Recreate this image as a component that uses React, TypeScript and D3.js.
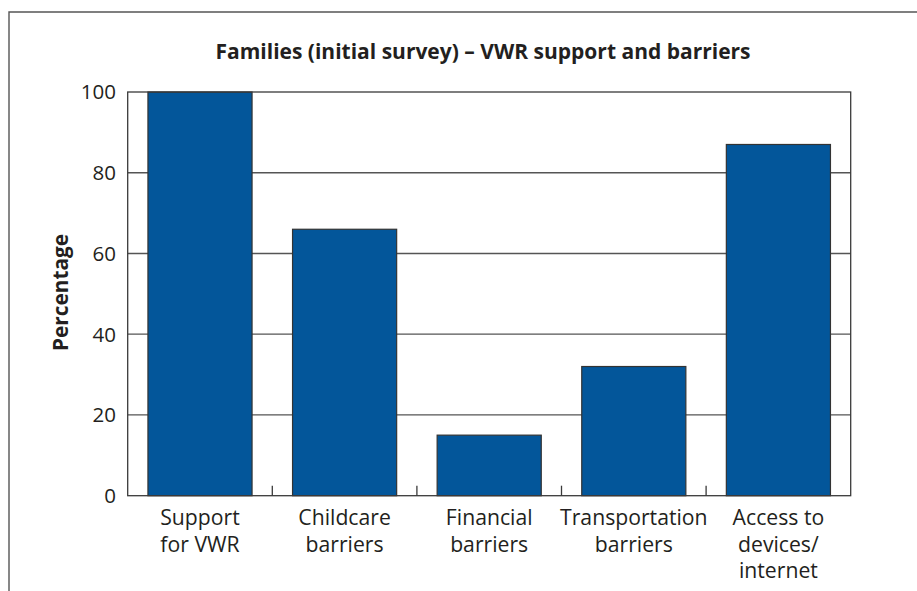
import React from "react";
import * as d3 from "d3";

const categories: string[][] = [
  ["Support", "for VWR"],
  ["Childcare", "barriers"],
  ["Financial", "barriers"],
  ["Transportation", "barriers"],
  ["Access to", "devices/", "internet"],
];
const values: number[] = [100, 66, 15, 32, 87];
const yTicks: number[] = [0, 20, 40, 60, 80, 100];
const title = "Families (initial survey) – VWR support and barriers";
const yLabel = "Percentage";

const W = 917;
const H = 591;
const margin = { left: 127.7, right: 917 - 850.7, top: 92, bottom: 591 - 495.7 };
const FONT = "'Open Sans', 'Noto Sans', sans-serif";

export default function App() {
  const ids = categories.map((_, i) => String(i));
  const x = d3
    .scaleBand<string>()
    .domain(ids)
    .range([margin.left, W - margin.right])
    .paddingInner(0.28)
    .paddingOuter(0.14);
  const y = d3
    .scaleLinear()
    .domain([0, 100])
    .range([H - margin.bottom, margin.top]);
  const step = x.step();
  const x0 = margin.left;
  const x1 = W - margin.right;
  const axisColor = "#3a3a3a";

  return (
    <svg
      width={W}
      height={H}
      style={{ position: "absolute", left: 0, top: 0, background: "#fff" }}
    >
      {/* outer frame */}
      <path d={`M9,${H + 5} V12 H${W + 5}`} fill="none" stroke="#555" strokeWidth={1.4} />
      {/* title */}
      <text
        x={483}
        y={58.5}
        textAnchor="middle"
        fontFamily={FONT}
        fontWeight={700}
        fontSize={21}
        fill="#231f20"
      >
        {title}
      </text>
      {/* gridlines */}
      {yTicks
        .filter((t) => t > 0 && t < 100)
        .map((t) => (
          <line key={t} x1={x0} x2={x1} y1={y(t)} y2={y(t)} stroke="#555" strokeWidth={1.3} />
        ))}
      {/* bars */}
      {values.map((v, i) => (
        <rect
          key={i}
          x={x(String(i))}
          y={y(v)}
          width={x.bandwidth()}
          height={y(0) - y(v)}
          fill="#03569a"
          stroke="#333"
          strokeWidth={1.2}
        />
      ))}
      {/* plot box */}
      <rect
        x={x0}
        y={y(100)}
        width={x1 - x0}
        height={y(0) - y(100)}
        fill="none"
        stroke={axisColor}
        strokeWidth={1.3}
      />
      {/* x ticks at category boundaries (inward) */}
      {ids.slice(1).map((id) => {
        const bx = (x(id) as number) - (step - x.bandwidth()) / 2;
        return (
          <line key={id} x1={bx} x2={bx} y1={y(0)} y2={y(0) - 10} stroke={axisColor} strokeWidth={1.3} />
        );
      })}
      {/* y tick labels */}
      {yTicks.map((t) => (
        <text
          key={t}
          x={116}
          y={y(t)}
          dy="0.36em"
          textAnchor="end"
          fontFamily={FONT}
          fontSize={20.5}
          fill="#231f20"
        >
          {t}
        </text>
      ))}
      {/* y label */}
      <text
        transform={`translate(68,${292.5}) rotate(-90)`}
        textAnchor="middle"
        fontFamily={FONT}
        fontWeight={700}
        fontSize={20.8}
        fill="#231f20"
      >
        {yLabel}
      </text>
      {/* category labels */}
      {categories.map((lines, i) => {
        const cx = (x(String(i)) as number) + x.bandwidth() / 2;
        return (
          <text key={i} textAnchor="middle" fontFamily={FONT} fontSize={21.2} fill="#231f20">
            {lines.map((l, j) => (
              <tspan key={j} x={cx} y={525 + j * 26.5}>
                {l}
              </tspan>
            ))}
          </text>
        );
      })}
    </svg>
  );
}
